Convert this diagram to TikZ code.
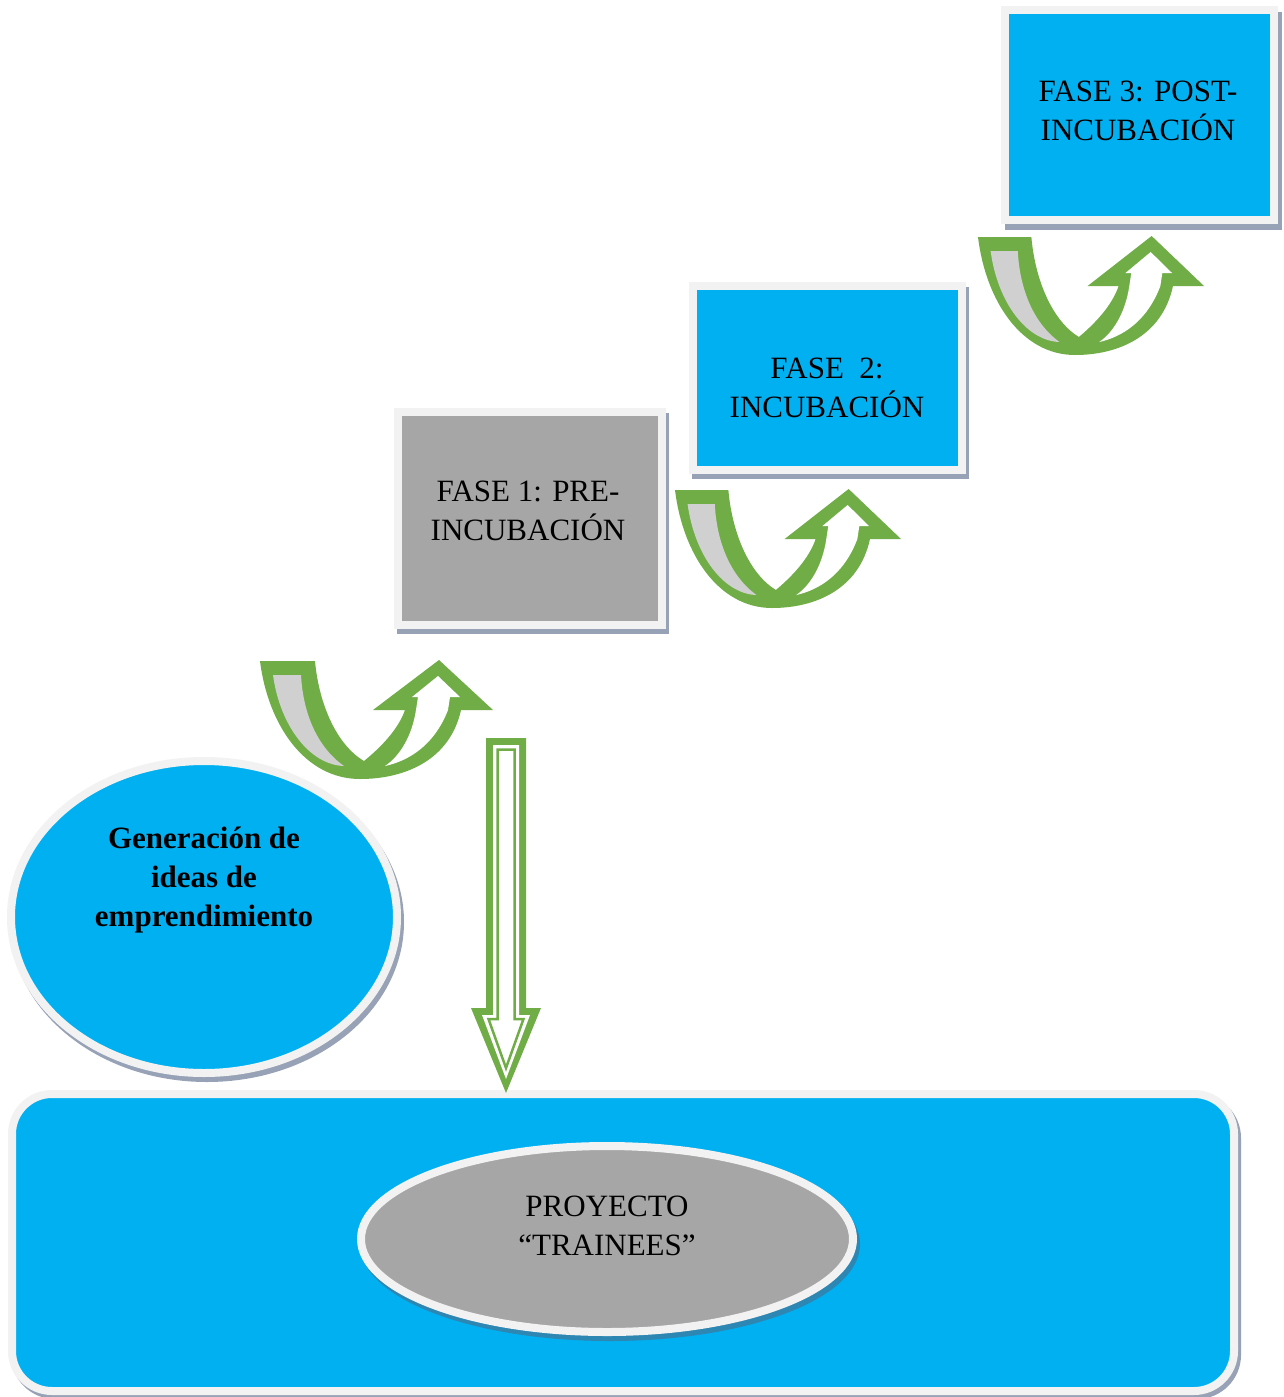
\documentclass[tikz,border=0pt]{standalone}
\usepackage{fontspec}
\setmainfont{Liberation Serif}
\usetikzlibrary{shapes.geometric}
\definecolor{cblue}{HTML}{00B0F0}
\definecolor{cgray}{HTML}{A6A6A6}
\definecolor{tailgray}{HTML}{D0D0D0}
\definecolor{agreen}{HTML}{70AD47}
\definecolor{rim}{HTML}{F2F2F2}
\definecolor{shade}{HTML}{97A2B6}
\definecolor{dshade}{HTML}{2E86B2}
\tikzset{
  uarrow/.pic={
    \fill[agreen] (0,0) -- (55,0) .. controls (59,44) and (77,84) .. (104,100)
      .. controls (120,87) and (138,69) .. (145,49) -- (113,49) -- (179,-1) -- (233,49) -- (201,49)
      .. controls (190,99) and (145,118) .. (100,118) .. controls (45,118) and (8,64) .. (0,0) -- cycle;
    \fill[tailgray] (13,14) -- (41,14) .. controls (43,52) and (57,86) .. (84,105)
      .. controls (50,104) and (20,65) .. (13,14) -- cycle;
    \fill[white] (152,36) -- (178,15) -- (200,36) -- (190,36) -- (188,49)
      .. controls (174,85) and (148,100) .. (125,105)
      .. controls (140,95) and (152,75) .. (156,49) -- (158,36) -- cycle;
  }
}
\begin{document}
\begin{tikzpicture}[x=1pt,y=-1pt,
  box/.style={rectangle, draw=rim, line width=8pt, inner sep=0pt, outer sep=0pt},
  boxshadow/.style={rectangle, fill=shade, draw=shade, line width=8pt, inner sep=0pt, outer sep=0pt},
  ell/.style={ellipse, draw=rim, line width=8pt, inner sep=0pt, outer sep=0pt},
  ellshadow/.style={ellipse, line width=8pt, inner sep=0pt, outer sep=0pt},
  txt/.style={font=\fontsize{31}{39}\selectfont, align=center, inner sep=0pt, text=black}]
\useasboundingbox (0,0) rectangle (1283,1397);
\fill[white] (0,0) rectangle (1283,1397);

% bottom rounded rectangle
\node[rectangle, rounded corners=40pt, fill=shade, draw=shade, line width=8pt, inner sep=0pt,
  minimum width=1222pt, minimum height=297pt] (baseshadow) at (626,1246.5) {};
\node[rectangle, rounded corners=40pt, fill=cblue, draw=rim, line width=8pt, inner sep=0pt,
  minimum width=1222pt, minimum height=297pt] (base) at (623,1242.5) {};

% inner ellipse
\node[ellshadow, fill=dshade, draw=dshade, minimum width=492pt, minimum height=186pt] (proyshadow) at (610,1244) {};
\node[ell, fill=cgray, minimum width=492pt, minimum height=186pt] (proy) at (607,1239) {};
\node[txt] (proytxt) at (607,1226) {PROYECTO\\“TRAINEES”};

% generation ellipse
\node[ellshadow, fill=shade, draw=shade, minimum width=386pt, minimum height=312pt] (genshadow) at (207,922) {};
\node[ell, fill=cblue, minimum width=386pt, minimum height=312pt] (gen) at (204,917) {};
\node[txt, font=\fontsize{31}{39}\selectfont\bfseries] (gentxt) at (204,880) {Generación de\\ideas de\\emprendimiento};

% phase boxes
\node[boxshadow, minimum width=264pt, minimum height=213pt] (f1shadow) at (533,523) {};
\node[box, fill=cgray, minimum width=264pt, minimum height=213pt] (f1) at (530,518.5) {};
\node[txt] (f1txt) at (528,510.5) {FASE 1: PRE-\\INCUBACIÓN};

\node[boxshadow, minimum width=269pt, minimum height=184pt] (f2shadow) at (830.5,383) {};
\node[box, fill=cblue, minimum width=269pt, minimum height=184pt] (f2) at (827.5,378) {};
\node[txt] (f2txt) at (827,387.5) {FASE\ \ 2:\\INCUBACIÓN};

\node[boxshadow, minimum width=269pt, minimum height=210pt] (f3shadow) at (1143.5,121) {};
\node[box, fill=cblue, minimum width=269pt, minimum height=210pt] (f3) at (1139.5,115) {};
\node[txt] (f3txt) at (1138,110.5) {FASE 3: POST-\\INCUBACIÓN};

% U-turn arrows
\pic at (260,661) {uarrow};
\pic[xscale=0.97] at (675,490) {uarrow};
\pic[xscale=0.97] at (978,237) {uarrow};

% down arrow
\fill[agreen] (486,738) -- (526,738) -- (526,1008) -- (541,1008) -- (506,1093) -- (471,1008) -- (486,1008) -- cycle;
\fill[white] (493,745) -- (519,745) -- (519,1015) -- (530,1015) -- (506,1079) -- (482,1015) -- (493,1015) -- cycle;
\draw[agreen, line width=2.5pt, line join=miter] (497.5,749.5) -- (514.5,749.5) -- (514.5,1019) -- (523.5,1019) -- (506,1068) -- (488.5,1019) -- (497.5,1019) -- cycle;
\end{tikzpicture}
\end{document}
